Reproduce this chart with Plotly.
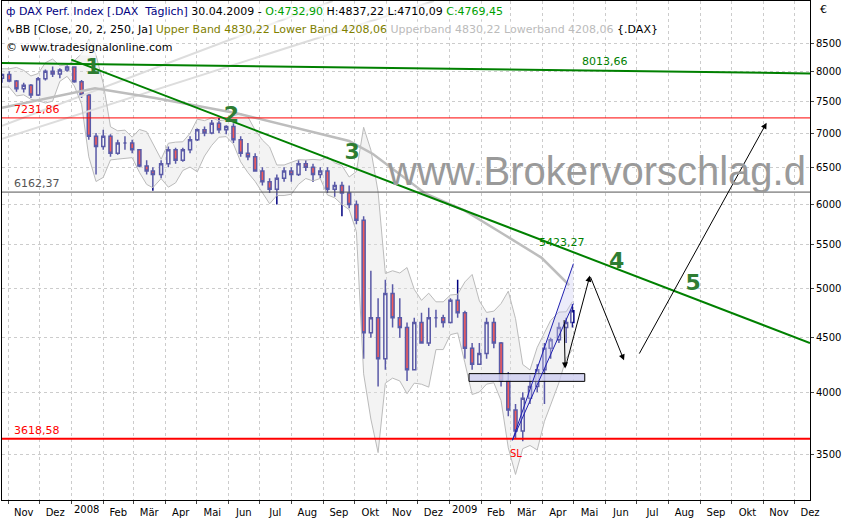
import numpy as np
import pandas as pd
import plotly.graph_objects as go

# weekly DAX candles
weeks = ["2007-10-26", "2007-11-02", "2007-11-09", "2007-11-16", "2007-11-23", "2007-11-30",
         "2007-12-07", "2007-12-14", "2007-12-21", "2007-12-28", "2008-01-04", "2008-01-11",
         "2008-01-18", "2008-01-25", "2008-02-01", "2008-02-08", "2008-02-15", "2008-02-22",
         "2008-02-29", "2008-03-07", "2008-03-14", "2008-03-20", "2008-03-28", "2008-04-04",
         "2008-04-11", "2008-04-18", "2008-04-25", "2008-05-02", "2008-05-09", "2008-05-16",
         "2008-05-23", "2008-05-30", "2008-06-06", "2008-06-13", "2008-06-20", "2008-06-27",
         "2008-07-04", "2008-07-11", "2008-07-18", "2008-07-25", "2008-08-01", "2008-08-08",
         "2008-08-15", "2008-08-22", "2008-08-29", "2008-09-05", "2008-09-12", "2008-09-19",
         "2008-09-26", "2008-10-03", "2008-10-10", "2008-10-17", "2008-10-24", "2008-10-31",
         "2008-11-07", "2008-11-14", "2008-11-21", "2008-11-28", "2008-12-05", "2008-12-12",
         "2008-12-19", "2008-12-26", "2009-01-02", "2009-01-09", "2009-01-16", "2009-01-23",
         "2009-01-30", "2009-02-06", "2009-02-13", "2009-02-20", "2009-02-27", "2009-03-06",
         "2009-03-13", "2009-03-20", "2009-03-27", "2009-04-03", "2009-04-09", "2009-04-17",
         "2009-04-24", "2009-04-30"]
opens = [7880, 7940, 7830, 7700, 7760, 7600, 7870, 8000, 7950, 8020, 8070, 7820, 7600, 6950,
         6800, 6950, 6700, 6850, 6850, 6750, 6520, 6450, 6400, 6550, 6750, 6600, 6750, 6900,
         7050, 7000, 7150, 7050, 7100, 6900, 6700, 6650, 6450, 6300, 6200, 6350, 6450, 6400,
         6550, 6500, 6400, 6450, 6200, 6250, 6150, 6000, 5800, 4550, 4700, 4300, 4950, 4700,
         4600, 4200, 4650, 4450, 4700, 4700, 4650, 4880, 4750, 4400, 4250, 4350, 4650, 4450,
         4100, 3850, 3680, 3950, 4050, 4200, 4400, 4480, 4600, 4650]
highs = [7960, 8000, 7850, 7800, 7780, 7900, 8030, 8080, 8050, 8100, 8080, 7850, 7620, 7000,
         7050, 6980, 6900, 6950, 6900, 6760, 6600, 6500, 6600, 6800, 6780, 6780, 6950, 7070,
         7100, 7200, 7230, 7120, 7150, 6950, 6850, 6700, 6500, 6350, 6400, 6500, 6500, 6600,
         6600, 6550, 6500, 6500, 6300, 6300, 6250, 6050, 5850, 5200, 4900, 5100, 5050, 4900,
         4650, 4700, 4750, 4800, 4780, 4730, 4900, 5100, 4770, 4450, 4450, 4700, 4700, 4460,
         4180, 3900, 4000, 4150, 4250, 4450, 4500, 4650, 4700, 4840]
lows = [7800, 7810, 7650, 7640, 7550, 7580, 7840, 7900, 7880, 7990, 7800, 7550, 6900, 6400,
        6750, 6650, 6680, 6750, 6700, 6500, 6400, 6180, 6350, 6500, 6550, 6580, 6700, 6880,
        6950, 6980, 7000, 6980, 6850, 6650, 6600, 6450, 6250, 6150, 6000, 6300, 6300, 6380,
        6450, 6300, 6350, 6150, 6100, 5850, 5950, 5750, 4300, 4500, 4050, 4200, 4600, 4500,
        4100, 4200, 4450, 4420, 4600, 4600, 4640, 4700, 4300, 4200, 4250, 4300, 4400, 4050,
        3800, 3620, 3600, 3900, 4000, 3900, 4300, 4450, 4450, 4600]
closes = [7940, 7830, 7700, 7760, 7600, 7870, 8000, 7950, 8020, 8070, 7820, 7600, 6950, 6800,
          6950, 6700, 6850, 6850, 6750, 6520, 6450, 6400, 6550, 6750, 6600, 6750, 6900, 7050,
          7000, 7150, 7050, 7100, 6900, 6700, 6650, 6450, 6300, 6200, 6350, 6450, 6400, 6550,
          6500, 6400, 6450, 6200, 6250, 6150, 6000, 5800, 4550, 4700, 4300, 4950, 4700, 4600,
          4200, 4650, 4450, 4700, 4700, 4650, 4880, 4750, 4400, 4250, 4350, 4650, 4450, 4100,
          3850, 3680, 3950, 4050, 4200, 4400, 4480, 4600, 4650, 4770]

# long moving average (thick grey curve)
ma_dates = ["2007-10-26", "2008-01-24", "2008-03-22", "2008-06-08", "2008-09-26", "2008-10-19",
            "2008-12-09", "2009-01-16", "2009-02-22", "2009-03-31", "2009-04-27"]
ma_values = [7390, 7710, 7550, 7310, 6880, 6690, 6140, 5920, 5630, 5350, 5040]

# horizontal levels
levels = [7231.86, 6162.37, 3618.58]
level_colors = ["red", "#555555", "red"]

# trend lines
top_line_dates = ["2007-10-26", "2009-12-16"]
top_line_values = [8140, 7960]
down_line_dates = ["2008-01-01", "2009-12-16"]
down_line_values = [8200, 4450]

# Elliott wave counts
wave_labels = ["1", "2", "3", "4", "5"]
wave_dates = ["2008-01-22", "2008-06-04", "2008-09-29", "2009-06-12", "2009-08-25"]
wave_values = [8040, 7258, 6691, 5290, 5050]

# projected path (arrows)
path_dates = ["2009-04-22", "2009-04-23", "2009-05-17", "2009-06-19", "2009-07-03", "2009-11-04"]
path_values = [4690, 4212, 5146, 4286, 4335, 7157]

# uptrend channel
chan_dates = ["2009-03-03", "2009-05-01"]
chan_upper = [3607, 5280]
chan_lower = [3607, 4844]

# support box
box_dates = ["2009-01-20", "2009-05-12"]
box_values = [4096, 4165]

# faint long-term band lines
faint_dates = [["2007-10-26", "2008-12-17"], ["2007-10-26", "2008-09-10"]]
faint_values = [[6915, 9307], [7110, 9307]]

df = pd.DataFrame({"date": pd.to_datetime(weeks), "close": closes})
mid = df["close"].rolling(4, min_periods=2).mean()
sd = df["close"].rolling(4, min_periods=2).std()
upper = (mid + 2 * sd).bfill()
lower = (mid - 2 * sd).bfill()

fig = go.Figure()

for d, v in zip(faint_dates, faint_values):
    fig.add_trace(go.Scatter(x=d, y=v, mode="lines", line=dict(color="#dddddd", width=2), hoverinfo="skip"))

fig.add_trace(go.Scatter(x=df["date"], y=upper, mode="lines", line=dict(color="#bbbbbb", width=1)))
fig.add_trace(go.Scatter(x=df["date"], y=lower, mode="lines", line=dict(color="#bbbbbb", width=1),
                         fill="tonexty", fillcolor="rgba(225,225,225,0.4)"))

fig.add_trace(go.Scatter(x=ma_dates, y=ma_values, mode="lines", line=dict(color="#bdbdbd", width=2.5)))

for lv, c in zip(levels, level_colors):
    fig.add_trace(go.Scatter(x=["2007-10-20", "2009-12-20"], y=[lv, lv], mode="lines",
                             line=dict(color=c, width=2 if lv < 4000 else 1)))
    fig.add_annotation(x=0.012, xref="paper", y=np.log10(lv), yanchor="bottom", showarrow=False,
                       text=f"{lv:.2f}".replace(".", ","), font=dict(color=c, size=11), xanchor="left")

# support box (drawn as a filled trace so it sits with the data)
fig.add_trace(go.Scatter(x=[box_dates[0], box_dates[1], box_dates[1], box_dates[0], box_dates[0]],
                         y=[box_values[0], box_values[0], box_values[1], box_values[1], box_values[0]],
                         mode="lines", fill="toself", fillcolor="rgba(205,205,240,0.8)",
                         line=dict(color="black", width=1)))

# channel fill and lines
fig.add_trace(go.Scatter(x=chan_dates + chan_dates[::-1], y=chan_upper + chan_lower[::-1], fill="toself",
                         fillcolor="rgba(200,200,240,0.35)", line=dict(width=0), mode="lines"))
fig.add_trace(go.Scatter(x=chan_dates, y=chan_upper, mode="lines", line=dict(color="#2020b0", width=1)))
fig.add_trace(go.Scatter(x=chan_dates, y=chan_lower, mode="lines", line=dict(color="#2020b0", width=1)))

fig.add_trace(go.Candlestick(x=df["date"], open=opens, high=highs, low=lows, close=closes,
                             increasing=dict(line=dict(color="#000080", width=1.5), fillcolor="#ffffff"),
                             decreasing=dict(line=dict(color="#000080", width=1.5), fillcolor="red"),
                             whiskerwidth=0))

fig.add_trace(go.Scatter(x=top_line_dates, y=top_line_values, mode="lines", line=dict(color="#008000", width=2)))
fig.add_trace(go.Scatter(x=down_line_dates, y=down_line_values, mode="lines", line=dict(color="#008000", width=2)))
fig.add_annotation(x="2009-06-01", y=np.log10(8013.66), text="8013,66", showarrow=False, yanchor="bottom",
                   font=dict(color="#008000", size=11))
fig.add_annotation(x="2009-04-20", y=np.log10(5423.27), text="5423,27", showarrow=False, yanchor="bottom",
                   font=dict(color="#008000", size=11))

fig.add_trace(go.Scatter(x=wave_dates, y=wave_values, mode="text", text=[f"<b>{w}</b>" for w in wave_labels],
                         textfont=dict(color="#2e7d32", size=22, family="DejaVu Sans")))

for i in range(len(path_dates) - 1):
    if i == 3:
        continue
    fig.add_annotation(x=path_dates[i + 1], y=np.log10(path_values[i + 1]), ax=path_dates[i],
                       ay=np.log10(path_values[i]), axref="x", ayref="y", xref="x", yref="y",
                       showarrow=True, arrowhead=2, arrowsize=1.2, arrowwidth=1, arrowcolor="black", text="")

fig.add_annotation(x="2009-03-06", y=np.log10(3560), text="SL", showarrow=False, yanchor="top",
                   font=dict(color="red", size=10))

fig.add_annotation(x=0.998, xref="paper", y=0.66, yref="paper", text="www.Brokervorschlag.d", showarrow=False,
                   xanchor="right", font=dict(color="#9a9a9a", size=40, family="Liberation Sans"))

header = [
    ("<span style='color:#000080'>ф DAX Perf. Index [.DAX  Täglich]</span> 30.04.2009 - "
     "<span style='color:#00a000'>O:4732,90</span> H:4837,22 L:4710,09 "
     "<span style='color:#00a000'>C:4769,45</span>"),
    ("∿BB [Close, 20, 2, 250, Ja] <span style='color:#808000'>Upper Band 4830,22 Lower Band 4208,06</span> "
     "<span style='color:#bbbbbb'>Upperband 4830,22 Lowerband 4208,06</span> {.DAX}"),
    "© www.tradesignalonline.com",
]
for k, t in enumerate(header):
    fig.add_annotation(x=0.003, y=0.995 - k * 0.036, xref="paper", yref="paper", text=t, showarrow=False,
                       xanchor="left", yanchor="top", font=dict(size=11, color="black", family="DejaVu Sans"),
                       bgcolor="rgba(255,255,255,0.6)")

fig.add_annotation(x=1.01, y=1.0, xref="paper", yref="paper", text="€", showarrow=False, xanchor="left",
                   yanchor="top", font=dict(size=11))

fig.update_layout(
    width=850, height=520, showlegend=False, plot_bgcolor="white", paper_bgcolor="white",
    margin=dict(l=2, r=40, t=1, b=20, autoexpand=False),
    font=dict(family="DejaVu Sans", size=10, color="black"),
)
fig.update_xaxes(range=["2007-10-26", "2009-12-16"], rangeslider_visible=False, dtick="M1",
                 tickformat="%b", ticklabelmode="period", showgrid=True, gridcolor="#cccccc", griddash="dot",
                 showline=True, linecolor="black", mirror=True, ticks="outside", ticklen=3,
                 tickfont=dict(size=10), automargin=False,
                 labelalias={"Mar": "Mär", "May": "Mai", "Oct": "Okt", "Dec": "Dez", "Jan": ""})
fig.update_yaxes(type="log", range=[np.log10(3171), np.log10(9307)], side="right",
                 tickvals=[3500, 4000, 4500, 5000, 5500, 6000, 6500, 7000, 7500, 8000, 8500],
                 showgrid=True, gridcolor="#cccccc", griddash="dot", showline=True, linecolor="black",
                 mirror=True, ticks="outside", ticklen=3, tickformat="d", tickfont=dict(size=10),
                 automargin=False)

# year labels for January
for yr in ["2008", "2009"]:
    fig.add_annotation(x=f"{yr}-01-16", y=-0.004, xref="x", yref="paper", text=yr, showarrow=False,
                       yanchor="top", font=dict(size=10))

fig.write_html("out.html", config={"displayModeBar": False},
               post_script="document.body.style.margin='0';")
